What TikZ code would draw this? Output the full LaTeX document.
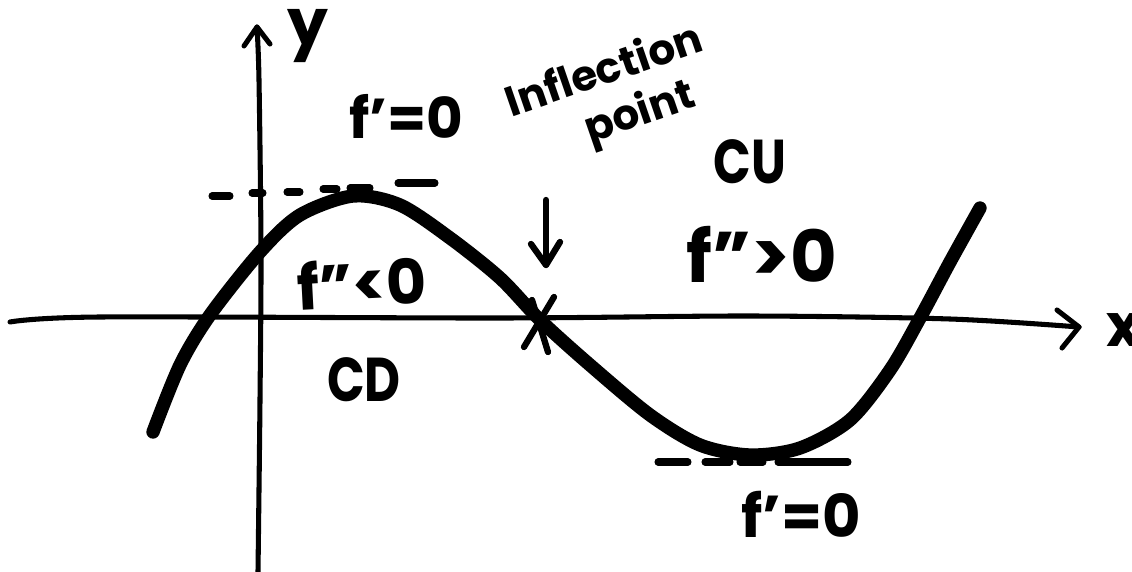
\documentclass[tikz,border=0pt]{standalone}
\usepackage{fontspec}
\setmainfont{Poppins}
\begin{document}
\begin{tikzpicture}[x=0.025cm,y=-0.025cm,
  axis/.style={line width=3.6pt,line cap=round,line join=round},
  graph/.style={line width=9.5pt,line cap=round,line join=round},
  tickstroke/.style={line width=5pt,line cap=round},
  penstroke/.style={line width=4.5pt,line cap=round,line join=round},
  lbl/.style={inner sep=0pt,font=\fontsize{#1}{#1}\selectfont\bfseries},
  lbl/.default=40]
\useasboundingbox (0,0) rectangle (1132,572);
% coordinates
\coordinate (yb) at (258,572);
\coordinate (yt) at (257,27);
\coordinate (xl) at (10,322);
\coordinate (xr) at (1079,327);
\coordinate (ip) at (540,320);
% y-axis
\draw[axis] plot[smooth] coordinates {(yb) (260,400) (261,250) (259,80) (yt)};
\draw[axis] (244,46) -- (yt) -- (270,44);
% x-axis
\draw[axis] plot[smooth] coordinates {(xl) (100,317) (500,318) (750,316) (950,319) (xr)};
\draw[axis] (1057,310) -- (xr) -- (1062,348);
% graph
\draw[graph] plot[smooth] coordinates {(153,432) (180,365) (210,315) (260,252) (300,215) (353,196) (400,205) (450,238) (500,278) (ip) (590,365) (650,415) (700,445) (750,455) (800,448) (850,420) (890,370) (920,318) (950,262) (980,208)};
% inflection X
\draw[penstroke] (554,297) -- (524,347);
\draw[penstroke] (532,300) -- (548,352);
% tangent dashes top
\foreach \a/\b/\y in {212/230/196,252/263/193,287/300/192,323/337/189,350/370/188,398/435/183}
  \draw[tickstroke] (\a,\y) -- (\b,\y);
% tangent dashes bottom
\foreach \a/\b in {658/688,705/730,740/763,778/848}
  \draw[tickstroke] (\a,462) -- (\b,462);
% arrow to inflection
\coordinate (at) at (546,200);
\coordinate (ah) at (546,265);
\draw[penstroke] (at) -- (ah);
\draw[penstroke] (531,244) -- (ah) -- (560,242);
% labels
\node[lbl=46] (ylab) at (308,36) {y};
\node[lbl=42] (xlab) at (1124,330) {x};
\node[lbl=40] (fp1) at (406,116) {f'=0};
\node[lbl=30,rotate=19] (infl) at (603,68) {Inflection};
\node[lbl=30,rotate=19] (pt) at (640,114) {point};
\node[lbl=44] (cu) at (750,162) {\scalebox{0.8}[1]{CU}};
\node[lbl=51] (fpp2) at (762,254) {f''>0};
\node[lbl=44,rotate=3] (fpp1) at (362,283) {f''<0};
\node[lbl=44] (cd) at (364,380) {\scalebox{0.8}[1]{CD}};
\node[lbl=42] (fp2) at (801,514) {f'=0};
\end{tikzpicture}
\end{document}
